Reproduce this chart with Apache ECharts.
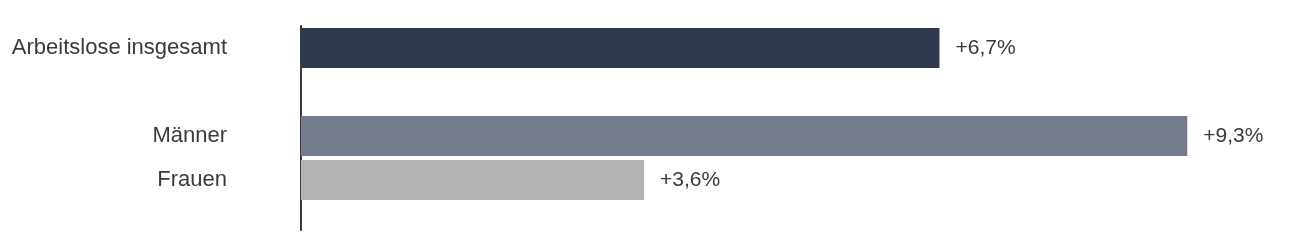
<!DOCTYPE html>
<html>
<head>
<meta charset="utf-8">
<script src="https://cdn.jsdelivr.net/npm/echarts@6/dist/echarts.min.js"></script>
<style>html,body{margin:0;padding:0;background:#fff}#c{width:1297px;height:240px}</style>
</head>
<body>
<div id="c"></div>
<script>
const categories = ['Arbeitslose insgesamt', '', 'Männer', 'Frauen'];
const values = [6.7, null, 9.3, 3.6];
const barColors = ['#2f384c', '#ffffff', '#747c8e', '#b2b2b2'];

const chart = echarts.init(document.getElementById('c'), null, {renderer: 'canvas'});
const fontFamily = '"Liberation Sans", Arial, sans-serif';
chart.setOption({
  animation: false,
  backgroundColor: '#ffffff',
  grid: [
    {left: 301, top: 26, width: 953, height: 176, containLabel: false},
    {left: 301, top: 26, width: 953, height: 204, containLabel: false}
  ],
  xAxis: [
    {gridIndex: 0, type: 'value', min: 0, max: 10, show: false},
    {gridIndex: 1, type: 'value', min: 0, max: 10, show: false}
  ],
  yAxis: [
    {
      gridIndex: 0, type: 'category', data: categories, inverse: true,
      axisLine: {show: false}, axisTick: {show: false},
      axisLabel: {margin: 74, color: '#3a3a3a', fontSize: 22, fontFamily: fontFamily}
    },
    {
      gridIndex: 1, type: 'category', data: [''],
      axisLine: {show: true, lineStyle: {color: '#3a3a3a', width: 2}},
      axisTick: {show: false}, axisLabel: {show: false}
    }
  ],
  series: [{
    type: 'bar',
    xAxisIndex: 0, yAxisIndex: 0,
    barWidth: 40,
    data: values.map((v, i) => ({value: v, itemStyle: {color: barColors[i]}})),
    label: {
      show: true, position: 'right', distance: 16,
      color: '#3a3a3a', fontSize: 21, fontFamily: fontFamily,
      formatter: p => p.value == null ? '' : '+' + p.value.toFixed(1).replace('.', ',') + '%'
    }
  }]
});
</script>
</body>
</html>
